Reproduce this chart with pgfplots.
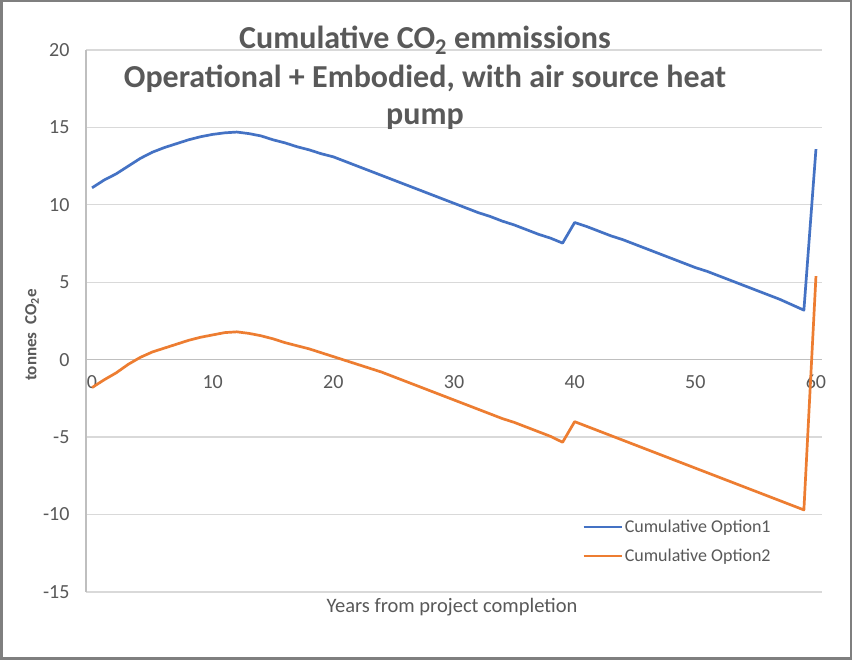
\documentclass[border=0pt]{standalone}
\usepackage{pgfplots}
\pgfplotsset{compat=1.18}
\usepackage{fontspec}
\setmainfont{Carlito}
\definecolor{blueS}{HTML}{4472C4}
\definecolor{orangeS}{HTML}{ED7D31}
\definecolor{txt}{HTML}{595959}
\definecolor{gridc}{HTML}{D9D9D9}
\definecolor{axc}{HTML}{BFBFBF}
\definecolor{brd}{HTML}{7F7F7F}
\begin{document}
\begin{tikzpicture}[x=1pt,y=1pt]
\useasboundingbox (0,0) rectangle (852,660);
\fill[white] (0,0) rectangle (852,660);
\begin{axis}[
  at={(86pt,68pt)}, anchor=south west,
  width=736pt, height=542pt, scale only axis,
  xmin=-0.5, xmax=60.5, ymin=-15, ymax=20,
  axis x line=middle, axis y line=left,
  axis line style={draw=axc, line width=1.3pt, -},
  hide obscured x ticks=false, hide obscured y ticks=false,
  xtick={0,10,...,60}, ytick={-15,-10,...,20},
  major tick length=0pt,
  ymajorgrids, grid style={draw=gridc, line width=1.3pt},
  tick label style={font=\fontsize{20}{22}\selectfont, text=txt},
  /pgf/number format/assume math mode=true,
  yticklabel style={xshift=-13pt},
  xticklabel style={yshift=-12pt},
  legend style={at={(rel axis cs:0.674,0.137)}, anchor=north west, draw=none, fill=none,
    font=\fontsize{18}{21}\selectfont, text=txt, row sep=11pt, inner sep=0pt},
  legend cell align=left,
  legend image code/.code={\draw[#1, line width=2.5pt] (0pt,0pt) -- (38pt,0pt);},
]
\addplot[blueS, line width=2.7pt, line join=round] table {
x y
0 11.1
1 11.6
2 12.0
3 12.5
4 13.0
5 13.4
6 13.7
7 13.95
8 14.2
9 14.4
10 14.55
11 14.65
12 14.7
13 14.6
14 14.45
15 14.2
16 14.0
17 13.75
18 13.55
19 13.3
20 13.1
21 12.8
22 12.5
23 12.2
24 11.9
25 11.6
26 11.3
27 11.0
28 10.7
29 10.4
30 10.1
31 9.8
32 9.5
33 9.25
34 8.95
35 8.7
36 8.4
37 8.1
38 7.85
39 7.53
40 8.86
41 8.6
42 8.3
43 8.0
44 7.75
45 7.45
46 7.15
47 6.85
48 6.55
49 6.25
50 5.95
51 5.7
52 5.4
53 5.1
54 4.8
55 4.5
56 4.2
57 3.9
58 3.55
59 3.2
60 13.6
};
\addlegendentry{Cumulative Option1}
\addplot[orangeS, line width=2.7pt, line join=round] table {
x y
0 -1.8
1 -1.3
2 -0.85
3 -0.3
4 0.15
5 0.5
6 0.75
7 1.0
8 1.25
9 1.45
10 1.6
11 1.75
12 1.8
13 1.7
14 1.55
15 1.35
16 1.1
17 0.9
18 0.7
19 0.45
20 0.2
21 -0.05
22 -0.3
23 -0.55
24 -0.8
25 -1.1
26 -1.4
27 -1.7
28 -2.0
29 -2.3
30 -2.6
31 -2.9
32 -3.2
33 -3.5
34 -3.8
35 -4.05
36 -4.35
37 -4.65
38 -4.95
39 -5.33
40 -4.0
41 -4.3
42 -4.6
43 -4.9
44 -5.2
45 -5.5
46 -5.8
47 -6.1
48 -6.4
49 -6.7
50 -7.0
51 -7.3
52 -7.6
53 -7.9
54 -8.2
55 -8.5
56 -8.8
57 -9.1
58 -9.4
59 -9.7
60 5.4
};
\addlegendentry{Cumulative Option2}
\end{axis}
\node[font=\fontsize{32}{36}\selectfont\bfseries, text=txt] at (425,620) {Cumulative CO\textsubscript{2} emmissions};
\node[font=\fontsize{32}{36}\selectfont\bfseries, text=txt] at (425,581) {Operational + Embodied, with air source heat};
\node[font=\fontsize{32}{36}\selectfont\bfseries, text=txt] at (425,541) {pump};
\node[rotate=90, font=\fontsize{17}{20}\selectfont\bfseries, text=txt] at (32,325) {tonnes\ \ CO\textsubscript{2}e};
\node[font=\fontsize{20.5}{24}\selectfont, text=txt] at (452,53) {Years from project completion};
\draw[brd, line width=2.5pt] (1.25,1.25) rectangle (850.75,658.75);
\end{tikzpicture}
\end{document}
